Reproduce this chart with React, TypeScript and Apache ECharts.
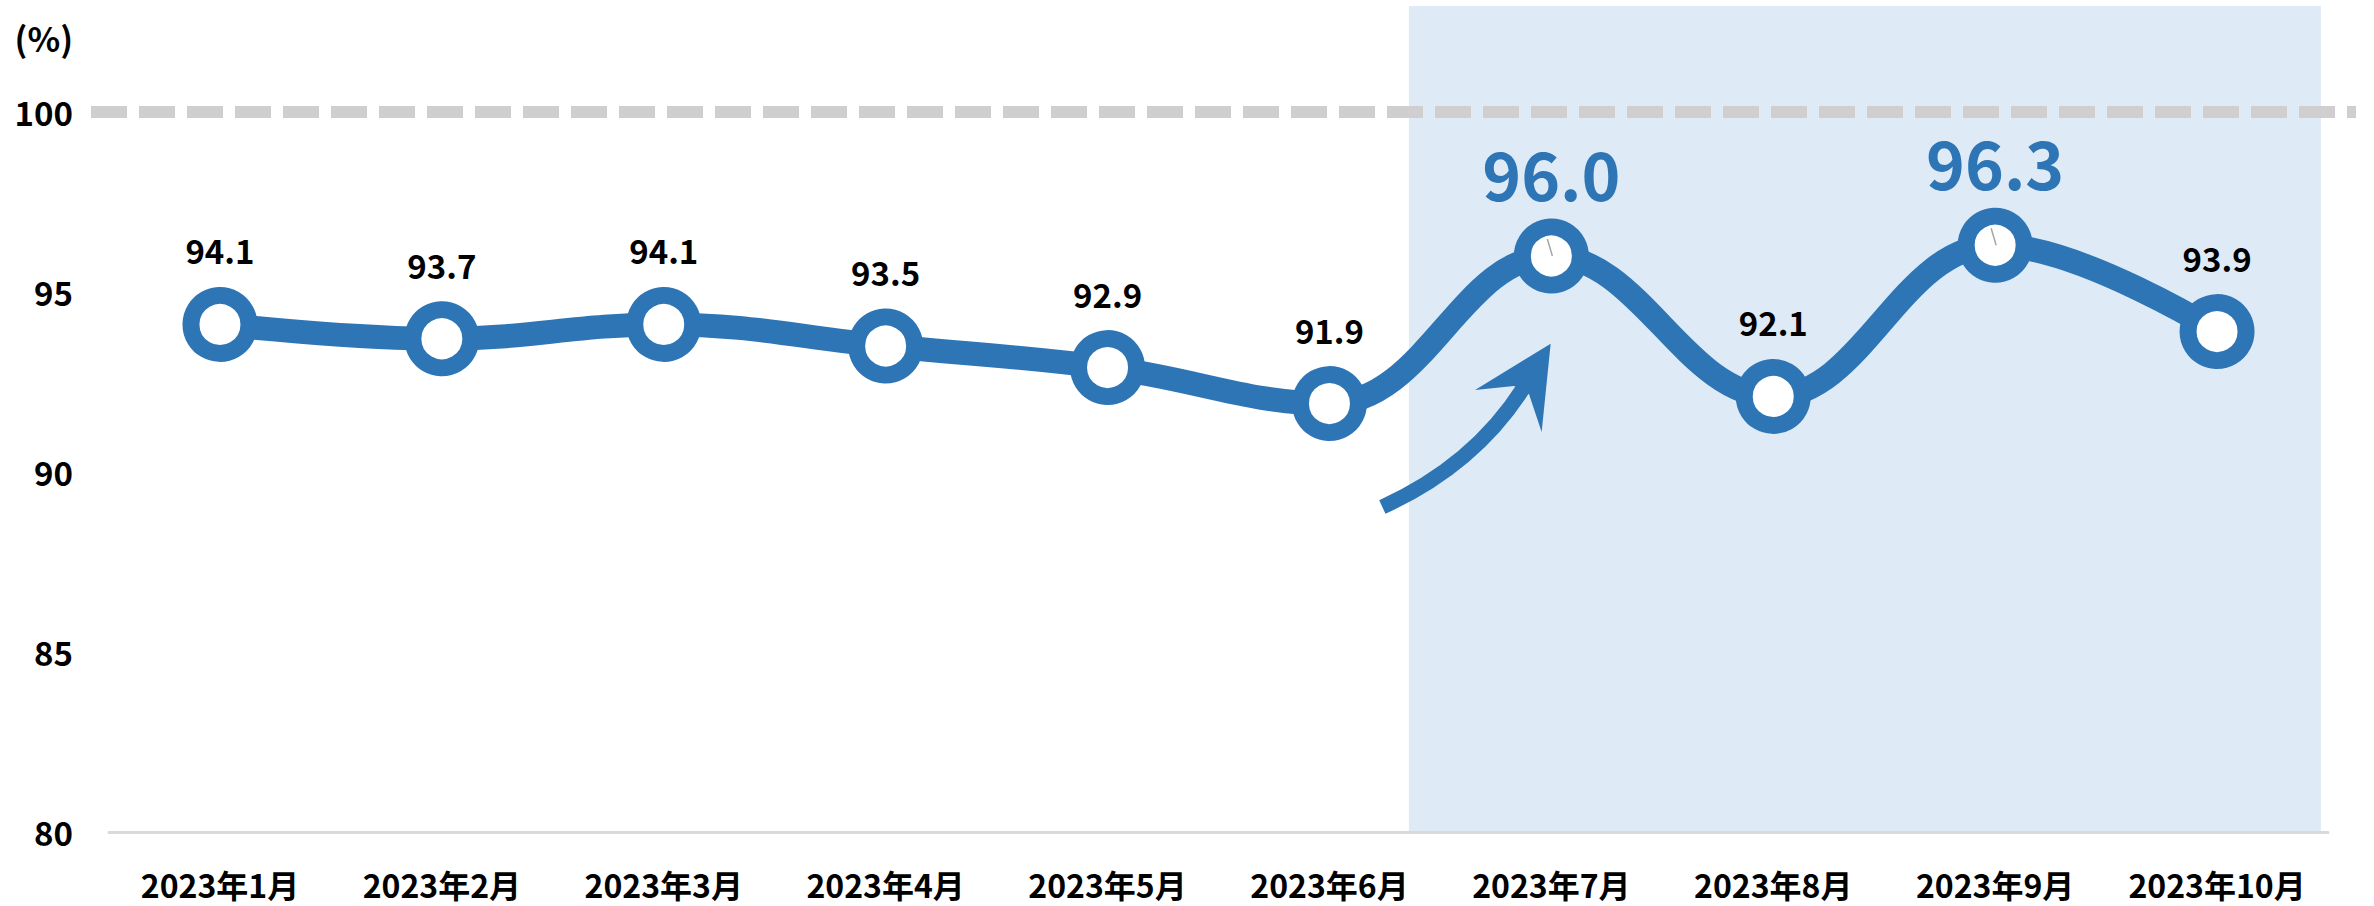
import React, { useEffect, useRef } from "react";
import * as echarts from "echarts";

const categories = [
  "2023年1月",
  "2023年2月",
  "2023年3月",
  "2023年4月",
  "2023年5月",
  "2023年6月",
  "2023年7月",
  "2023年8月",
  "2023年9月",
  "2023年10月",
];
const values = [94.1, 93.7, 94.1, 93.5, 92.9, 91.9, 96.0, 92.1, 96.3, 93.9];
const highlightedIdx = [6, 8];
const yMin = 80;
const yMax = 100;
const yInterval = 5;
const referenceValue = 100;
const unitLabel = "(%)";

const BLUE = "#2e75b6";
const SHADE = "#deeaf6";
const FONT = '"Noto Sans CJK JP", "Noto Sans", sans-serif';

export default function App() {
  const ref = useRef<HTMLDivElement>(null);

  useEffect(() => {
    const chart = echarts.init(ref.current as HTMLDivElement, null, { renderer: "svg" });
    const gridLeft = 109;
    const gridRight = 46;
    const gridTop = 112;
    const gridBottom = 74;

    const normalLabel = {
      show: true,
      position: "top",
      distance: 20,
      fontFamily: FONT,
      fontWeight: "bold",
      fontSize: 33,
      color: "#000",
      formatter: (p: any) => Number(p.value).toFixed(1),
    };
    const bigLabel = {
      show: true,
      position: "top",
      distance: 14,
      fontFamily: FONT,
      fontWeight: "bold",
      fontSize: 66,
      color: BLUE,
      formatter: (p: any) => Number(p.value).toFixed(1),
    };

    chart.setOption({
      animation: false,
      grid: { left: gridLeft, right: gridRight, top: gridTop, bottom: gridBottom },
      xAxis: {
        type: "category",
        data: categories,
        boundaryGap: true,
        axisLine: { lineStyle: { color: "#d9d9d9", width: 3 } },
        axisTick: { show: false },
        axisLabel: {
          interval: 0,
          margin: 36,
          lineHeight: 32,
          fontFamily: FONT,
          fontWeight: "bold",
          fontSize: 32,
          color: "#000",
        },
      },
      yAxis: {
        type: "value",
        min: yMin,
        max: yMax,
        interval: yInterval,
        splitLine: { show: false },
        axisLine: { show: false },
        axisTick: { show: false },
        axisLabel: {
          margin: 36,
          fontFamily: FONT,
          fontWeight: "bold",
          fontSize: 33,
          color: "#000",
        },
      },
      series: [
        {
          type: "line",
          data: values.map((v, i) =>
            highlightedIdx.includes(i) ? { value: v, label: bigLabel } : { value: v }
          ),
          smooth: 0.4,
          symbol: "circle",
          symbolSize: 58,
          lineStyle: { color: BLUE, width: 24 },
          itemStyle: { color: "#ffffff", borderColor: BLUE, borderWidth: 17 },
          label: normalLabel,
          z: 3,
        },
      ],
    });

    const px = (i: number, v: number) =>
      chart.convertToPixel({ xAxisIndex: 0, yAxisIndex: 0 }, [i, v]) as number[];
    const [xFirst, yBottom] = px(0, yMin);
    const band = px(1, yMin)[0] - xFirst;
    const xLast = px(values.length - 1, yMin)[0];
    const shadeStart = px(5, yMin)[0] + 0.358 * band;
    const shadeEnd = xLast + 0.468 * band;
    const shadeTop = 6;
    const yRef = px(0, referenceValue)[1];
    const [jx, jy] = px(6, values[6]);

    const ticks = highlightedIdx.map((i) => {
      const [cx, cy] = px(i, values[i]);
      return {
        type: "line",
        z: 10,
        shape: { x1: cx - 4, y1: cy - 17, x2: cx + 1, y2: cy },
        style: { stroke: "#a6a6a6", lineWidth: 1.5 },
        silent: true,
      };
    });

    chart.setOption({
      graphic: [
        {
          type: "rect",
          z: -1,
          shape: { x: shadeStart, y: shadeTop, width: shadeEnd - shadeStart, height: yBottom - shadeTop },
          style: { fill: SHADE },
          silent: true,
        },
        {
          type: "line",
          z: 1,
          shape: { x1: xFirst - band / 2 - 18, y1: yRef, x2: xLast + band / 2 + 28, y2: yRef },
          style: { stroke: "#d0cecf", lineWidth: 12, lineDash: [36, 12] },
          silent: true,
        },
        {
          type: "text",
          x: gridLeft - 36,
          y: 37,
          style: {
            text: unitLabel,
            fontFamily: FONT,
            fontWeight: "bold",
            fontSize: 34,
            fill: "#000",
            align: "right",
            verticalAlign: "middle",
          },
        },
        {
          type: "bezierCurve",
          z: 5,
          shape: {
            x1: jx - 169,
            y1: jy + 251,
            cpx1: jx - 77,
            cpy1: jy + 209,
            x2: jx - 28,
            y2: jy + 132,
          },
          style: { stroke: BLUE, lineWidth: 15, fill: "none", lineCap: "butt" },
          silent: true,
        },
        {
          type: "polygon",
          z: 5,
          shape: {
            points: [
              [jx - 0.7, jy + 87.7],
              [jx - 76.3, jy + 134],
              [jx - 37.3, jy + 130],
              [jx - 22.3, jy + 138.3],
              [jx - 9.7, jy + 176],
            ],
          },
          style: { fill: BLUE },
          silent: true,
        },
        ...ticks,
      ],
    });

    return () => chart.dispose();
  }, []);

  return (
    <div
      ref={ref}
      style={{ position: "absolute", left: 0, top: 0, width: 2374, height: 906 }}
    />
  );
}
